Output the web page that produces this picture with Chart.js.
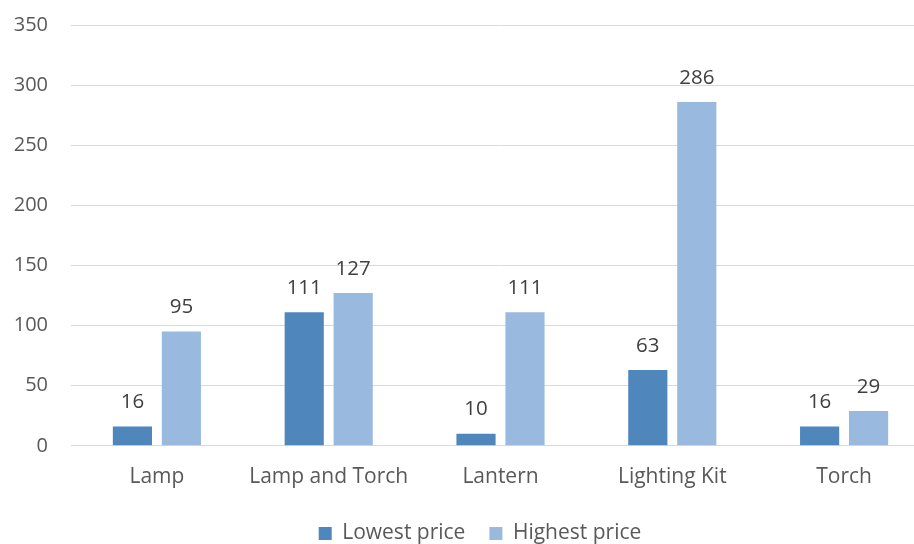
<!DOCTYPE html>
<html>
<head>
<meta charset="utf-8">
<script src="https://cdn.jsdelivr.net/npm/chart.js@4.4.1/dist/chart.umd.min.js"></script>
<style>
  html, body { margin: 0; padding: 0; background: #fff; overflow: hidden; }
  #wrap { width: 930px; height: 544px; position: relative; }
</style>
</head>
<body>
<div id="wrap"><canvas id="chart-bars"></canvas></div>
<script>
// categorias y precios
const categories = ["Lamp", "Lamp and Torch", "Lantern", "Lighting Kit", "Torch"];
const lowestPrice = [16, 111, 10, 63, 16];
const highestPrice = [95, 127, 111, 286, 29];
const yTicks = [0, 50, 100, 150, 200, 250, 300, 350];

const FONT = "'Open Sans', 'DejaVu Sans', sans-serif";

// etiquetas de valor encima de cada barra
const valueLabels = {
	id: "valueLabels",
	afterDatasetsDraw(chart) {
		const ctx = chart.ctx;
		ctx.save();
		ctx.font = "20.5px " + FONT;
		ctx.fillStyle = "#404040";
		ctx.textAlign = "center";
		ctx.textBaseline = "bottom";
		chart.data.datasets.forEach((ds, i) => {
			chart.getDatasetMeta(i).data.forEach((bar, j) => {
				ctx.fillText(ds.data[j], bar.x, bar.y - 14);
			});
		});
		ctx.restore();
	}
};

// mueve la leyenda un poco a la derecha
const legendShift = {
	id: "legendShift",
	afterLayout(chart) {
		chart.legend.left += 15;
		chart.legend.right += 15;
	}
};

const ctx20 = document.getElementById("chart-bars").getContext("2d");
let myChart = new Chart(ctx20, {
	type: "bar",
	data: {
		labels: categories,
		datasets: [
			{
				label: "Lowest price",
				data: lowestPrice,
				backgroundColor: "#4f87bd",
				categoryPercentage: 0.57,
				barPercentage: 0.8,
			},
			{
				label: "Highest price",
				data: highestPrice,
				backgroundColor: "#99b9df",
				categoryPercentage: 0.57,
				barPercentage: 0.8,
			}
		],
	},
	options: {
		responsive: true,
		maintainAspectRatio: false,
		animation: false,
		layout: { padding: { top: 25, right: 0, left: 0, bottom: -10 } },
		plugins: {
			tooltip: { enabled: false },
			legend: {
				position: "bottom",
				labels: {
					font: { family: FONT, size: 21 },
					color: "#595959",
					boxWidth: 13,
					boxHeight: 13,
					padding: 24,
				},
			},
		},
		scales: {
			x: {
				grid: { display: false },
				border: { color: "#d9d9d9", width: 1 },
				afterFit: (s) => { s.height -= 2; },
				ticks: {
					font: { family: FONT, size: 21 },
					color: "#595959",
					padding: 11,
				},
			},
			y: {
				min: 0,
				max: 350,
				afterBuildTicks: (s) => { s.ticks = yTicks.map(v => ({ value: v })); },
				afterFit: (s) => { s.width = 71; s.paddingTop = 0; s.paddingBottom = 0; },
				grid: { color: "#d9d9d9", lineWidth: 1, drawTicks: false },
				border: { display: false },
				ticks: {
					font: { family: FONT, size: 20 },
					color: "#595959",
					padding: 23,
				},
			},
		},
	},
	plugins: [valueLabels, legendShift],
});
</script>
</body>
</html>
